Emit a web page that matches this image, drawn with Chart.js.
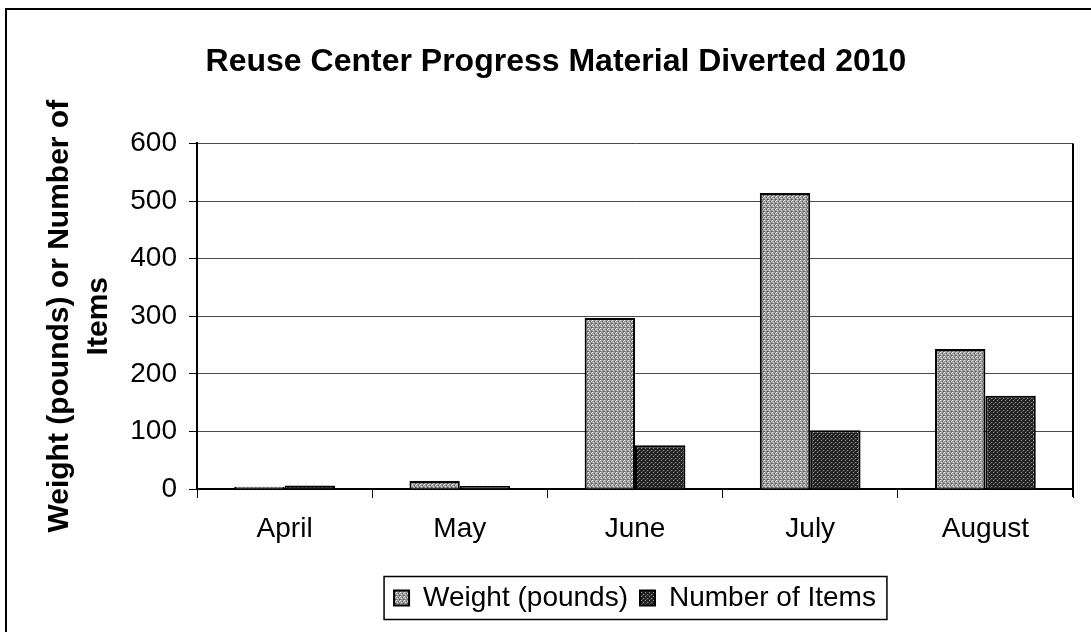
<!DOCTYPE html>
<html>
<head>
<meta charset="utf-8">
<script src="https://cdn.jsdelivr.net/npm/chart.js@4/dist/chart.umd.min.js"></script>
<style>
  html, body { margin: 0; padding: 0; background: #ffffff; }
  #wrap { width: 1091px; height: 632px; position: relative; }
</style>
</head>
<body>
<div id="wrap"><canvas id="c"></canvas></div>
<script>
// ---- data ----
const titleText = 'Reuse Center Progress Material Diverted 2010';
const categories = ['April', 'May', 'June', 'July', 'August'];
const weightPounds = [4, 14, 297, 514, 243];
const numberOfItems = [6, 5, 76, 102, 162];
const seriesNames = ['Weight (pounds)', 'Number of Items'];
const yAxisTitle = ['Weight (pounds) or Number of', 'Items'];
const yTicks = [0, 100, 200, 300, 400, 500, 600];

// stipple-like fills (fixed pixel patterns)
function makePattern(base, specks) {
  const p = document.createElement('canvas');
  p.width = 4; p.height = 4;
  const g = p.getContext('2d');
  g.fillStyle = base; g.fillRect(0, 0, 4, 4);
  specks.forEach(([x, y, col]) => { g.fillStyle = col; g.fillRect(x, y, 1, 1); });
  return g.createPattern(p, 'repeat');
}
const ctx0 = document.getElementById('c').getContext('2d');
const weightFill = makePattern('#9c9c9c', [[0,0,'#f4f4f4'],[2,1,'#5a5a5a'],[1,2,'#d8d8d8'],[3,3,'#4e4e4e'],[3,1,'#d0d0d0'],[0,3,'#777777']]);
const itemsFill = makePattern('#222222', [[1,0,'#9a9a9a'],[3,2,'#8a8a8a'],[0,2,'#444444'],[2,3,'#555555']]);

const FONT = "'Liberation Sans', Arial, sans-serif";

const decor = {
  id: 'decor',
  beforeDraw(chart) {
    const c = chart.ctx;
    c.save();
    c.fillStyle = '#ffffff';
    c.fillRect(0, 0, chart.width, chart.height);
    c.strokeStyle = '#000000';
    c.lineWidth = 2;
    c.beginPath();
    c.moveTo(6, chart.height); c.lineTo(6, 9); c.lineTo(chart.width, 9);
    c.stroke();
    c.restore();
  },
  afterDraw(chart) {
    const c = chart.ctx;
    const a = chart.chartArea;
    c.save();
    c.strokeStyle = '#000000';
    c.lineWidth = 2;
    c.beginPath();
    c.moveTo(a.right, a.top); c.lineTo(a.right, a.bottom + 8);
    c.stroke();
    // legend frame
    const lg = chart.legend;
    if (lg && lg.legendHitBoxes && lg.legendHitBoxes.length) {
      const hb = lg.legendHitBoxes;
      const first = hb[0], last = hb[hb.length - 1];
      const cy = first.top + first.height / 2;
      c.lineWidth = 1.5;
      c.strokeRect(first.left - 10, cy - 21.5, (last.left + last.width) - first.left + 21, 43);
    }
    c.restore();
  }
};

new Chart(document.getElementById('c'), {
  type: 'bar',
  data: {
    labels: categories,
    datasets: [
      { label: seriesNames[0], data: weightPounds, backgroundColor: weightFill, borderColor: '#000000', borderWidth: 2 },
      { label: seriesNames[1], data: numberOfItems, backgroundColor: itemsFill, borderColor: '#000000', borderWidth: 2 }
    ]
  },
  options: {
    responsive: true,
    maintainAspectRatio: false,
    animation: false,
    datasets: { bar: { barPercentage: 1.0, categoryPercentage: 0.575 } },
    layout: { padding: { left: 39, right: 18, top: 10, bottom: 10 } },
    plugins: {
      title: {
        display: true,
        text: titleText,
        color: '#000000',
        font: { family: FONT, size: 32, weight: 'bold' },
        padding: { top: 33, bottom: 62 }
      },
      legend: {
        display: true,
        position: 'bottom',
        fullSize: false,
        labels: {
          color: '#000000',
          font: { family: FONT, size: 28 },
          boxWidth: 15,
          boxHeight: 15,
          padding: 12
        }
      },
      tooltip: { enabled: false }
    },
    scales: {
      x: {
        grid: { display: true, drawOnChartArea: false, drawTicks: true, tickLength: 9, tickColor: '#000000', offset: true },
        border: { display: true, color: '#000000', width: 2 },
        ticks: { color: '#000000', font: { family: FONT, size: 28 }, padding: 14 },
        afterFit(s) { s.height = 83; }
      },
      y: {
        min: 0, max: 600,
        afterBuildTicks(s) { s.ticks = yTicks.map(v => ({ value: v })); },
        grid: { color: '#4a4a4a', lineWidth: 1, drawTicks: true, tickLength: 8, tickColor: '#000000' },
        border: { display: true, color: '#000000', width: 2 },
        ticks: { color: '#000000', font: { family: FONT, size: 28 }, padding: 12 },
        title: {
          display: true,
          text: yAxisTitle,
          color: '#000000',
          font: { family: FONT, size: 30, weight: 'bold', lineHeight: 1.3 },
          padding: { top: 1, bottom: 0 }
        },
        afterFit(s) { s.width = 158; }
      }
    }
  },
  plugins: [decor]
});
</script>
</body>
</html>
